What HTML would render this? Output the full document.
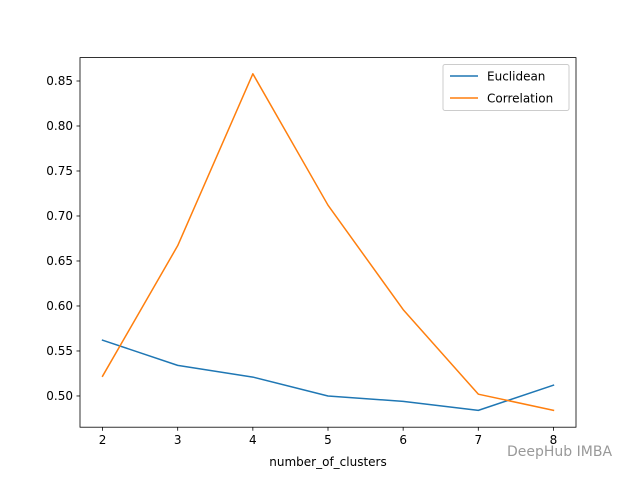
<!DOCTYPE html>
<html><head><meta charset="utf-8"><style>
body{margin:0;background:#fff;width:640px;height:480px;overflow:hidden;font-family:"DejaVu Sans","Liberation Sans",sans-serif}
</style></head><body>
<svg id="chart" width="640" height="480" xmlns="http://www.w3.org/2000/svg" font-family="DejaVu Sans, Liberation Sans, sans-serif">
<rect width="640" height="480" fill="#fff"/>
<g id="plot"></g>
<text x="507" y="456" font-size="14" fill="#999">DeepHub IMBA</text>
</svg>
<script>
const categories=[2,3,4,5,6,7,8];
const euclidean=[0.562,0.534,0.521,0.500,0.494,0.484,0.512];
const correlation=[0.522,0.667,0.858,0.712,0.596,0.502,0.484];
const yTicks=[0.50,0.55,0.60,0.65,0.70,0.75,0.80,0.85];
const L=80,R=576,T=57.6,B=427.2;
const xMin=1.7,xMax=8.3,yMin=0.4653,yMax=0.876;
const xs=v=>L+(v-xMin)/(xMax-xMin)*(R-L);
const ys=v=>B-(v-yMin)/(yMax-yMin)*(B-T);
const NS='http://www.w3.org/2000/svg';
const g=document.getElementById('plot');
function mk(t,a,txt){const e=document.createElementNS(NS,t);for(const k in a)e.setAttribute(k,a[k]);if(txt!==undefined)e.textContent=txt;g.appendChild(e);return e;}
yTicks.forEach(v=>{const y=ys(v);
const l=mk('line',{x1:L-3.5,x2:L,y1:y,y2:y,stroke:'#000','stroke-width':0.8});


const t=mk('text',{x:L-7,y:y+4,'font-size':12,'text-anchor':'end'},v.toFixed(2));

});
categories.forEach(c=>{const x=xs(c);
const l=mk('line',{x1:x,x2:x,y1:B,y2:B+3.5,stroke:'#000','stroke-width':0.8});


const t=mk('text',{x:x,y:B+17,'font-size':12,'text-anchor':'middle'},String(c));

});
function series(vals,color,name){const p=mk('polyline',{points:vals.map((v,i)=>xs(categories[i])+','+ys(v)).join(' '),fill:'none',stroke:color,'stroke-width':1.5,'stroke-linejoin':'round','stroke-linecap':'square'});

}
series(euclidean,'#1f77b4','euclidean-line');
series(correlation,'#ff7f0e','correlation-line');
const fr=mk('rect',{x:L,y:T,width:R-L,height:B-T,fill:'none',stroke:'#000','stroke-width':0.8});


const xl=mk('text',{x:(L+R)/2,y:466,'font-size':12,'text-anchor':'middle'},'number_of_clusters');


const lg=mk('rect',{x:443,y:64.5,width:126,height:46,fill:'#fff',stroke:'#ccc','stroke-width':1,rx:2});


[['Euclidean','#1f77b4',76],['Correlation','#ff7f0e',98]].forEach(([n,c,y])=>{
const l=mk('line',{x1:450,x2:478,y1:y,y2:y,stroke:c,'stroke-width':1.5});


const t=mk('text',{x:487,y:y+4.5,'font-size':12},n);

});
</script>
</body></html>
